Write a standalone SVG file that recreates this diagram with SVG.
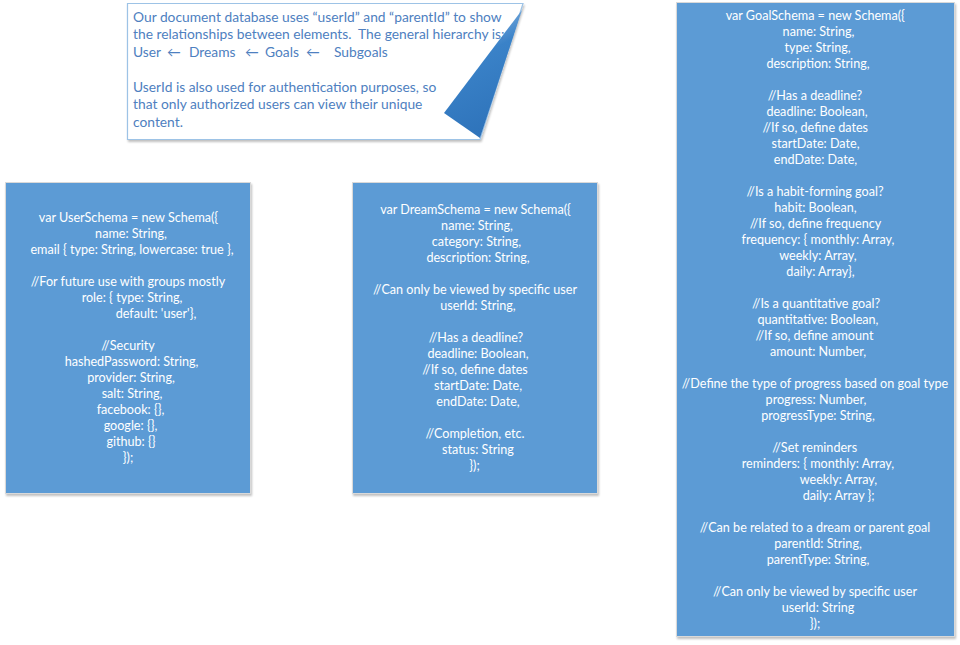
<svg xmlns="http://www.w3.org/2000/svg" width="960" height="645" viewBox="0 0 960 645">
<defs>
<linearGradient id="curl" x1="0" y1="0" x2="0.3" y2="1">
<stop offset="0" stop-color="#a9c9ea"/>
<stop offset="0.45" stop-color="#3a82c8"/>
<stop offset="1" stop-color="#2f74bb"/>
</linearGradient>
<filter id="sh" x="-5%" y="-5%" width="115%" height="115%">
<feGaussianBlur in="SourceAlpha" stdDeviation="1.2"/>
<feOffset dx="1" dy="1.5" result="b"/>
<feComponentTransfer><feFuncA type="linear" slope="0.25"/></feComponentTransfer>
<feMerge><feMergeNode/><feMergeNode in="SourceGraphic"/></feMerge>
</filter>
<style>
.box{fill:#5b9bd5;stroke:#d9d9d9;stroke-width:1}
.bt{font-family:Lato,"Liberation Sans",sans-serif;font-size:12.6px;fill:#ffffff;text-anchor:middle}
.nt{font-family:Lato,"Liberation Sans",sans-serif;font-size:13.8px;fill:#4e80c0;white-space:pre}
</style>
</defs>
<rect width="960" height="645" fill="#ffffff"/>

<g id="note">
<polygon points="127.5,3.5 523,3.5 480,139.5 127.5,139.5" fill="#ffffff" stroke="#9dc3e6" stroke-width="1.2" filter="url(#sh)"/>
<polygon points="522,10 444,113 480,138" fill="url(#curl)"/>
<text class="nt" x="133" y="21.5">Our document database uses “userId” and “parentId” to show</text>
<text class="nt" x="133" y="39" xml:space="preserve">the relationships between elements.  The general hierarchy is:</text>
<text class="nt" x="133" y="56.5">User <tspan x="167">←</tspan><tspan x="189">Dreams</tspan><tspan x="245">←</tspan><tspan x="265">Goals</tspan><tspan x="306">←</tspan><tspan x="334">Subgoals</tspan></text>
<text class="nt" x="133" y="91.5">UserId is also used for authentication purposes, so</text>
<text class="nt" x="133" y="109">that only authorized users can view their unique</text>
<text class="nt" x="133" y="126.5">content.</text>
</g>

<g id="user-schema">
<rect class="box" x="5.5" y="182.5" width="245" height="311" filter="url(#sh)"/>
<text class="bt" x="128.5" y="222">var UserSchema = new Schema({</text>
<text class="bt" x="131" y="238">name: String,</text>
<text class="bt" x="132" y="254">email { type: String, lowercase: true },</text>
<text class="bt" x="128" y="286">//For future use with groups mostly</text>
<text class="bt" x="132" y="302">role: { type: String,</text>
<text class="bt" x="156" y="318">default: 'user'},</text>
<text class="bt" x="128" y="350">//Security</text>
<text class="bt" x="131.5" y="366">hashedPassword: String,</text>
<text class="bt" x="131" y="382">provider: String,</text>
<text class="bt" x="132" y="398">salt: String,</text>
<text class="bt" x="130.5" y="414">facebook: {},</text>
<text class="bt" x="130.5" y="430">google: {},</text>
<text class="bt" x="131" y="446">github: {}</text>
<text class="bt" x="128" y="462">});</text>
</g>

<g id="dream-schema">
<rect class="box" x="352.5" y="182.5" width="245" height="311" filter="url(#sh)"/>
<text class="bt" x="475.5" y="214">var DreamSchema = new Schema({</text>
<text class="bt" x="477" y="230">name: String,</text>
<text class="bt" x="476.5" y="246">category: String,</text>
<text class="bt" x="478" y="262">description: String,</text>
<text class="bt" x="475" y="294">//Can only be viewed by specific user</text>
<text class="bt" x="478" y="310">userId: String,</text>
<text class="bt" x="476" y="342">//Has a deadline?</text>
<text class="bt" x="478" y="358">deadline: Boolean,</text>
<text class="bt" x="475" y="374">//If so, define dates</text>
<text class="bt" x="478" y="390">startDate: Date,</text>
<text class="bt" x="478" y="406">endDate: Date,</text>
<text class="bt" x="475" y="438">//Completion, etc.</text>
<text class="bt" x="478" y="454">status: String</text>
<text class="bt" x="474.5" y="470">});</text>
</g>

<g id="goal-schema">
<rect class="box" x="676.5" y="2.5" width="278" height="634" filter="url(#sh)"/>
<text class="bt" x="815.3" y="20">var GoalSchema = new Schema({</text>
<text class="bt" x="818.5" y="36">name: String,</text>
<text class="bt" x="817.5" y="52">type: String,</text>
<text class="bt" x="818" y="68">description: String,</text>
<text class="bt" x="815" y="100">//Has a deadline?</text>
<text class="bt" x="817" y="116">deadline: Boolean,</text>
<text class="bt" x="815.3" y="132">//If so, define dates</text>
<text class="bt" x="815.5" y="148">startDate: Date,</text>
<text class="bt" x="815.5" y="164">endDate: Date,</text>
<text class="bt" x="815" y="196">//Is a habit-forming goal?</text>
<text class="bt" x="815.5" y="212">habit: Boolean,</text>
<text class="bt" x="815.5" y="228">//If so, define frequency</text>
<text class="bt" x="818" y="244">frequency: { monthly: Array,</text>
<text class="bt" x="818" y="260">weekly: Array,</text>
<text class="bt" x="820.5" y="276">daily: Array},</text>
<text class="bt" x="816" y="308">//Is a quantitative goal?</text>
<text class="bt" x="818" y="324">quantitative: Boolean,</text>
<text class="bt" x="814.5" y="340">//If so, define amount</text>
<text class="bt" x="818" y="356">amount: Number,</text>
<text class="bt" x="815" y="388">//Define the type of progress based on goal type</text>
<text class="bt" x="816" y="404">progress: Number,</text>
<text class="bt" x="818" y="420">progressType: String,</text>
<text class="bt" x="814.7" y="452">//Set reminders</text>
<text class="bt" x="818" y="468">reminders: { monthly: Array,</text>
<text class="bt" x="838.5" y="484">weekly: Array,</text>
<text class="bt" x="838.7" y="500">daily: Array };</text>
<text class="bt" x="815" y="532">//Can be related to a dream or parent goal</text>
<text class="bt" x="818" y="548">parentId: String,</text>
<text class="bt" x="818" y="564">parentType: String,</text>
<text class="bt" x="815" y="596">//Can only be viewed by specific user</text>
<text class="bt" x="818" y="612">userId: String</text>
<text class="bt" x="815" y="628">});</text>
</g>

<g id="connectors"></g>
</svg>
